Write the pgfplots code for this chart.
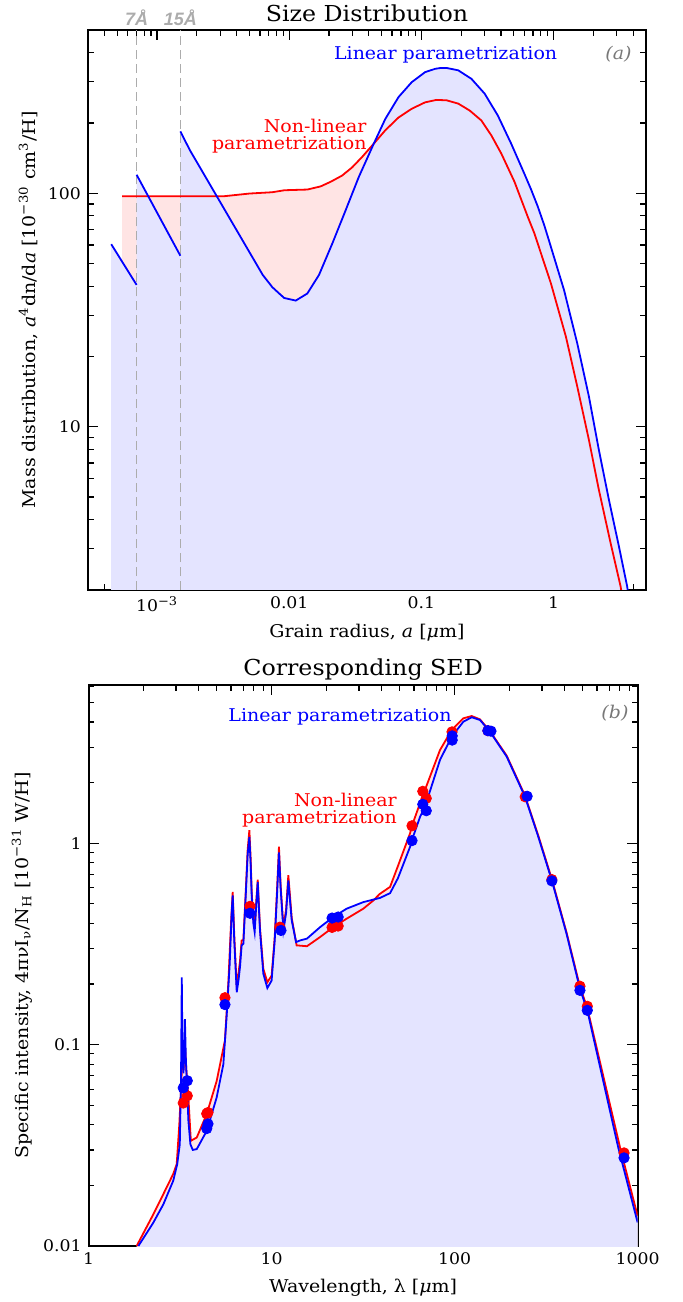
\documentclass[border=0pt]{standalone}
\usepackage{fontspec}
\setmainfont{DejaVu Serif}[FakeStretch=1.08]
\newfontfamily\angfont{Liberation Sans}
\usepackage{pgfplots}
\pgfplotsset{compat=1.18}

\definecolor{fillblue}{RGB}{228,228,255}
\definecolor{fillred}{RGB}{255,228,228}
\definecolor{dashgray}{RGB}{172,172,172}
\definecolor{labgray}{RGB}{120,120,120}

\newcommand{\lab}{\fontsize{8.8}{10}\selectfont}
\newcommand{\labtight}{\fontsize{8.8}{8.4}\selectfont}
\newcommand{\ttl}{\fontsize{11}{13}\selectfont}
\newcommand{\tck}{\fontsize{8}{9.5}\selectfont}

\pgfplotsset{
  every axis title shift=0pt,
  every axis/.append style={
    scale only axis,
    clip mode=individual,
    axis line style={line width=0.9pt},
    tick align=inside,
    major tick length=0.18cm,
    minor tick length=0.1cm,
    tick style={line width=0.6pt, black},
    tick label style={font=\tck},
    xlabel style={font=\lab},
    ylabel style={font=\lab},
    title style={font=\ttl, anchor=center},
  },
}

\begin{document}
\begin{tikzpicture}
\useasboundingbox (0,0) rectangle (12cm,-22.909cm);

% ---------------- (a) size distribution
\begin{axis}[
  xmode=log, ymode=log,
  at={(1.548cm,-0.528cm)}, anchor=north west,
  width=9.818cm, height=9.853cm,
  xmin=3e-4, xmax=5, ymin=2, ymax=500,
  xtick={1e-3,0.01,0.1,1},
  xticklabels={10\textsuperscript{−3},0.01,0.1,1},
  minor xtick={4e-4,5e-4,6e-4,7e-4,8e-4,9e-4,2e-3,3e-3,4e-3,5e-3,6e-3,7e-3,8e-3,9e-3,0.02,0.03,0.04,0.05,0.06,0.07,0.08,0.09,0.2,0.3,0.4,0.5,0.6,0.7,0.8,0.9,2,3,4},
  ytick={10,100}, yticklabels={10,100},
  minor ytick={3,4,5,6,7,8,9,20,30,40,50,60,70,80,90,200,300,400},
  title={Size Distribution},
  title style={at={(0.5,1.029)}},
  xlabel={Grain radius, \textit{a} [\textit{μ}m]},
  xlabel style={at={(axis description cs:0.5,-0.076)}, anchor=center},
  ylabel={Mass distribution, \textit{a}\textsuperscript{4}dn/d\textit{a} [10\textsuperscript{−30} cm\textsuperscript{3}/H]},
  ylabel style={at={(axis description cs:-0.107,0.5)}, anchor=center},
]
% non-linear fill
\addplot[draw=none, fill=fillred] coordinates {
  (5.45e-4,1) (5.45e-4,97) (3.16e-3,97) (5e-3,99.7) (7.45e-3,101) (9.2e-3,103)
  (0.0137,103.7) (0.0173,107) (0.0206,112) (0.0251,119) (0.0299,129) (0.0356,143)
  (0.0436,163) (0.0533,186) (0.0671,211) (0.0845,230) (0.1066,245) (0.130,251)
  (0.155,250) (0.19,242) (0.232,226) (0.284,205) (0.338,177) (0.402,148) (0.506,112)
  (0.638,79.3) (0.716,67.3) (0.955,41.1) (1.24,24.3) (1.51,14.9) (1.85,8.8)
  (2.2,5.38) (2.7,3.18) (3.21,2.08) (3.8,1.2) (3.8,1)
};
% linear fill
\addplot[draw=none, fill=fillblue] coordinates {
  (4.5e-4,1) (4.5e-4,60.5) (7e-4,40.5) (7e-4,120) (1.5e-3,54) (1.5e-3,184)
  (1.77e-3,153) (6.3e-3,44.7) (7.45e-3,39.6) (8.4e-3,37.2) (9.16e-3,35.6)
  (0.0112,34.7) (0.0137,37.2) (0.0168,44.7) (0.0212,61) (0.0267,84.5) (0.0336,117.4)
  (0.0436,163) (0.0533,208) (0.0671,258) (0.0845,299) (0.1066,330) (0.127,341)
  (0.14,344) (0.155,344) (0.19,336) (0.239,309) (0.301,267) (0.379,215) (0.478,163)
  (0.602,121) (0.675,104) (0.758,88) (0.85,73) (0.929,62) (1.2,38.5) (1.51,22.8)
  (1.85,13.5) (2.2,7.98) (2.62,4.88) (3.12,3.08) (3.6,2.08) (4.2,1.2) (4.2,1)
};
% 7 and 15 Angstrom
\addplot[dashgray, line width=0.8pt, dash pattern=on 4.5pt off 2.5pt] coordinates {(7e-4,2) (7e-4,500)};
\addplot[dashgray, line width=0.8pt, dash pattern=on 4.5pt off 2.5pt] coordinates {(1.5e-3,2) (1.5e-3,500)};
% non-linear curve
\addplot[red, line width=0.9pt, mark=none] coordinates {
  (5.45e-4,97) (3.16e-3,97) (5e-3,99.7) (7.45e-3,101) (9.2e-3,103)
  (0.0137,103.7) (0.0173,107) (0.0206,112) (0.0251,119) (0.0299,129) (0.0356,143)
  (0.0436,163) (0.0533,186) (0.0671,211) (0.0845,230) (0.1066,245) (0.130,251)
  (0.155,250) (0.19,242) (0.232,226) (0.284,205) (0.338,177) (0.402,148) (0.506,112)
  (0.638,79.3) (0.716,67.3) (0.955,41.1) (1.24,24.3) (1.51,14.9) (1.85,8.8)
  (2.2,5.38) (2.7,3.18) (3.21,2.08) (3.8,1.2)
};
% linear curve, three pieces
\addplot[blue, line width=0.9pt, mark=none] coordinates {(4.5e-4,60.5) (7e-4,40.5)};
\addplot[blue, line width=0.9pt, mark=none] coordinates {(7e-4,120) (1.5e-3,54)};
\addplot[blue, line width=0.9pt, mark=none] coordinates {
  (1.5e-3,184) (1.77e-3,153) (6.3e-3,44.7) (7.45e-3,39.6) (8.4e-3,37.2) (9.16e-3,35.6)
  (0.0112,34.7) (0.0137,37.2) (0.0168,44.7) (0.0212,61) (0.0267,84.5) (0.0336,117.4)
  (0.0436,163) (0.0533,208) (0.0671,258) (0.0845,299) (0.1066,330) (0.127,341)
  (0.14,344) (0.155,344) (0.19,336) (0.239,309) (0.301,267) (0.379,215) (0.478,163)
  (0.602,121) (0.675,104) (0.758,88) (0.85,73) (0.929,62) (1.2,38.5) (1.51,22.8)
  (1.85,13.5) (2.2,7.98) (2.62,4.88) (3.12,3.08) (3.6,2.08) (4.2,1.2)
};
\node[blue, font=\lab] at (rel axis cs:0.641,0.955) {Linear parametrization};
\node[red, font=\labtight, align=right, anchor=east, inner sep=0pt] at (rel axis cs:0.5,0.811) {Non-linear\\parametrization};
\node[labgray, font=\lab\itshape, anchor=east, inner sep=0pt] at (rel axis cs:0.975,0.957) {(a)};
\node[dashgray, font={\angfont\fontsize{9}{10}\selectfont\bfseries\itshape}] at (axis cs:7e-4,565) {7Å};
\node[dashgray, font={\angfont\fontsize{9}{10}\selectfont\bfseries\itshape}] at (axis cs:1.5e-3,565) {15Å};
\end{axis}

% ---------------- (b) SED
\begin{axis}[
  xmode=log, ymode=log,
  at={(1.559cm,-12.053cm)}, anchor=north west,
  width=9.660cm, height=9.871cm,
  xmin=1, xmax=1000, ymin=0.01, ymax=6.1,
  xtick={1,10,100,1000}, xticklabels={1,10,100,1000},
  minor xtick={2,3,4,5,6,7,8,9,20,30,40,50,60,70,80,90,200,300,400,500,600,700,800,900},
  ytick={0.01,0.1,1}, yticklabels={0.01,0.1,1},
  minor ytick={0.02,0.03,0.04,0.05,0.06,0.07,0.08,0.09,0.2,0.3,0.4,0.5,0.6,0.7,0.8,0.9,2,3,4,5,6},
  title={Corresponding SED},
  title style={at={(0.5,1.027)}},
  xlabel={Wavelength, λ [\textit{μ}m]},
  xlabel style={at={(axis description cs:0.5,-0.074)}, anchor=center},
  ylabel={Specific intensity, 4πνI\textsubscript{ν}/N\textsubscript{H} [10\textsuperscript{−31} W/H]},
  ylabel style={at={(axis description cs:-0.121,0.5)}, anchor=center},
]
\addplot[draw=none, fill=fillred] coordinates {
  (1.83,0.005) (1.83,0.0100) (2.26,0.0144) (2.56,0.0181) (2.90,0.0228) (3.03,0.0255)
  (3.13,0.040) (3.20,0.06) (3.25,0.085) (3.30,0.075) (3.36,0.10) (3.42,0.075)
  (3.51,0.0547) (3.62,0.0333) (3.90,0.0346) (4.42,0.0452) (5.01,0.066) (5.56,0.105)
  (5.81,0.208) (6.0,0.40) (6.13,0.573) (6.25,0.35) (6.45,0.193) (6.72,0.26) (6.86,0.329)
  (7.01,0.33) (7.2,0.54) (7.40,0.93) (7.56,1.16) (7.68,0.85) (7.79,0.562) (7.95,0.42)
  (8.08,0.376) (8.25,0.52) (8.40,0.66) (8.52,0.50) (8.64,0.38) (9.01,0.238) (9.48,0.204)
  (10.0,0.22) (10.4,0.342) (10.7,0.58) (10.97,0.96) (11.2,0.62) (11.6,0.383) (12.0,0.47)
  (12.34,0.693) (12.6,0.55) (12.88,0.425) (13.7,0.311) (15.6,0.308) (18.4,0.342)
  (21.7,0.383) (25.7,0.422) (31.7,0.473) (36,0.52) (39,0.56) (44.4,0.607) (49,0.77)
  (57.1,1.12) (58.3,1.21) (64.7,1.58) (68.9,1.84) (83.2,2.90) (96.4,3.65) (111.6,4.17)
  (124,4.28) (137.6,4.12) (156,3.60) (192.6,2.72) (242.6,1.72) (286.7,1.09) (339.6,0.665)
  (409,0.36) (484,0.194) (531,0.152) (802,0.0308) (1000,0.0141) (1000,0.005)
};
\addplot[draw=none, fill=fillblue] coordinates {
  (1.87,0.005) (1.87,0.0100) (2.25,0.0130) (2.56,0.0161) (2.90,0.0211) (3.05,0.0255)
  (3.15,0.032) (3.20,0.07) (3.23,0.216) (3.26,0.085) (3.30,0.072) (3.33,0.09) (3.36,0.134)
  (3.40,0.085) (3.44,0.066) (3.51,0.0419) (3.60,0.032) (3.71,0.030) (3.90,0.0303)
  (4.42,0.0373) (5.01,0.0547) (5.45,0.080) (5.69,0.142) (5.90,0.25) (6.05,0.45)
  (6.13,0.551) (6.25,0.33) (6.45,0.182) (6.60,0.21) (6.72,0.243) (6.86,0.311) (7.01,0.317)
  (7.20,0.52) (7.40,0.88) (7.56,1.075) (7.68,0.80) (7.79,0.541) (7.95,0.40) (8.08,0.362)
  (8.25,0.50) (8.40,0.64) (8.52,0.48) (8.64,0.369) (9.01,0.225) (9.48,0.191) (10.0,0.208)
  (10.4,0.329) (10.7,0.55) (10.97,0.90) (11.2,0.60) (11.6,0.369) (12.0,0.45) (12.34,0.654)
  (12.6,0.52) (12.88,0.414) (13.6,0.323) (14.3,0.329) (15.6,0.336) (18.4,0.383) (21.7,0.43)
  (25.7,0.473) (31.7,0.51) (39.1,0.535) (44.4,0.565) (49,0.67) (57.1,0.96) (58.3,1.03)
  (64.7,1.35) (68.9,1.52) (83.2,2.59) (96.4,3.38) (111.6,4.01) (124,4.22) (137.6,4.09)
  (156,3.58) (192.6,2.69) (242.6,1.70) (286.7,1.075) (339.6,0.654) (409,0.355) (484,0.189)
  (531,0.148) (784,0.0308) (1000,0.0131) (1000,0.005)
};
\addplot[red, line width=0.9pt, mark=none] coordinates {
  (1.83,0.0100) (2.26,0.0144) (2.56,0.0181) (2.90,0.0228) (3.03,0.0255)
  (3.13,0.040) (3.20,0.06) (3.25,0.085) (3.30,0.075) (3.36,0.10) (3.42,0.075)
  (3.51,0.0547) (3.62,0.0333) (3.90,0.0346) (4.42,0.0452) (5.01,0.066) (5.56,0.105)
  (5.81,0.208) (6.0,0.40) (6.13,0.573) (6.25,0.35) (6.45,0.193) (6.72,0.26) (6.86,0.329)
  (7.01,0.33) (7.2,0.54) (7.40,0.93) (7.56,1.16) (7.68,0.85) (7.79,0.562) (7.95,0.42)
  (8.08,0.376) (8.25,0.52) (8.40,0.66) (8.52,0.50) (8.64,0.38) (9.01,0.238) (9.48,0.204)
  (10.0,0.22) (10.4,0.342) (10.7,0.58) (10.97,0.96) (11.2,0.62) (11.6,0.383) (12.0,0.47)
  (12.34,0.693) (12.6,0.55) (12.88,0.425) (13.7,0.311) (15.6,0.308) (18.4,0.342)
  (21.7,0.383) (25.7,0.422) (31.7,0.473) (36,0.52) (39,0.56) (44.4,0.607) (49,0.77)
  (57.1,1.12) (58.3,1.21) (64.7,1.58) (68.9,1.84) (83.2,2.90) (96.4,3.65) (111.6,4.17)
  (124,4.28) (137.6,4.12) (156,3.60) (192.6,2.72) (242.6,1.72) (286.7,1.09) (339.6,0.665)
  (409,0.36) (484,0.194) (531,0.152) (802,0.0308) (1000,0.0141)
};
\addplot[blue, line width=0.9pt, mark=none] coordinates {
  (1.87,0.0100) (2.25,0.0130) (2.56,0.0161) (2.90,0.0211) (3.05,0.0255)
  (3.15,0.032) (3.20,0.07) (3.23,0.216) (3.26,0.085) (3.30,0.072) (3.33,0.09) (3.36,0.134)
  (3.40,0.085) (3.44,0.066) (3.51,0.0419) (3.60,0.032) (3.71,0.030) (3.90,0.0303)
  (4.42,0.0373) (5.01,0.0547) (5.45,0.080) (5.69,0.142) (5.90,0.25) (6.05,0.45)
  (6.13,0.551) (6.25,0.33) (6.45,0.182) (6.60,0.21) (6.72,0.243) (6.86,0.311) (7.01,0.317)
  (7.20,0.52) (7.40,0.88) (7.56,1.075) (7.68,0.80) (7.79,0.541) (7.95,0.40) (8.08,0.362)
  (8.25,0.50) (8.40,0.64) (8.52,0.48) (8.64,0.369) (9.01,0.225) (9.48,0.191) (10.0,0.208)
  (10.4,0.329) (10.7,0.55) (10.97,0.90) (11.2,0.60) (11.6,0.369) (12.0,0.45) (12.34,0.654)
  (12.6,0.52) (12.88,0.414) (13.6,0.323) (14.3,0.329) (15.6,0.336) (18.4,0.383) (21.7,0.43)
  (25.7,0.473) (31.7,0.51) (39.1,0.535) (44.4,0.565) (49,0.67) (57.1,0.96) (58.3,1.03)
  (64.7,1.35) (68.9,1.52) (83.2,2.59) (96.4,3.38) (111.6,4.01) (124,4.22) (137.6,4.09)
  (156,3.58) (192.6,2.69) (242.6,1.70) (286.7,1.075) (339.6,0.654) (409,0.355) (484,0.189)
  (531,0.148) (784,0.0308) (1000,0.0131)
};
% photometry
\addplot[only marks, mark=*, mark size=2.6pt, red, mark options={fill=red, draw=red}] coordinates {
  (3.29,0.0513) (3.46,0.0557) (4.42,0.0454) (4.49,0.046) (5.56,0.171) (7.62,0.486)
  (11.1,0.383) (21.4,0.382) (23.1,0.388) (58.5,1.22) (67,1.81) (70,1.67) (96.8,3.57)
  (152,3.62) (243,1.70) (340,0.66) (484,0.195) (531,0.155) (843,0.029)
};
\addplot[only marks, mark=*, mark size=2.6pt, blue, mark options={fill=blue, draw=blue}] coordinates {
  (3.29,0.061) (3.46,0.0662) (4.42,0.0383) (4.49,0.0404) (5.56,0.158) (7.62,0.449)
  (11.25,0.369) (21.4,0.425) (23.1,0.43) (58.5,1.03) (67,1.56) (70,1.45) (97,3.41)
  (97,3.25) (152,3.62) (158,3.60) (249,1.71) (340,0.65) (484,0.186) (531,0.148) (843,0.0274)
};
\node[blue, font=\lab] at (rel axis cs:0.458,0.944) {Linear parametrization};
\node[red, font=\labtight, align=right, anchor=east, inner sep=0pt] at (rel axis cs:0.562,0.777) {Non-linear\\parametrization};
\node[labgray, font=\lab\itshape, anchor=east, inner sep=0pt] at (rel axis cs:0.984,0.95) {(b)};
\end{axis}
\end{tikzpicture}
\end{document}
